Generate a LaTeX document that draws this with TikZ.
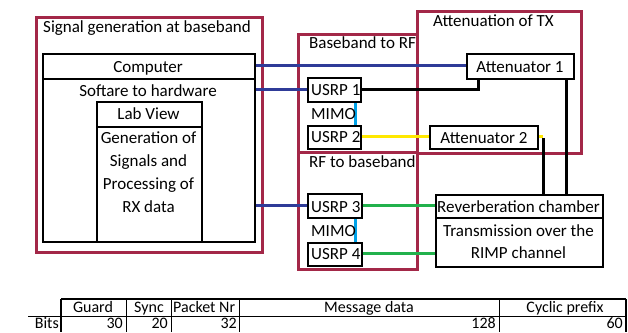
\documentclass[tikz,border=0pt]{standalone}
\usepackage{fontspec}
\setmainfont{Carlito}
\definecolor{grpred}{RGB}{163,40,72}
\definecolor{linkblue}{RGB}{47,59,152}
\definecolor{linkyellow}{RGB}{255,232,0}
\definecolor{linkgreen}{RGB}{34,177,76}
\definecolor{linkcyan}{RGB}{0,162,232}
\begin{document}
\begin{tikzpicture}[x=1pt,y=-1pt,
  group/.style={draw=grpred,line width=3pt,inner sep=0pt,anchor=north west},
  blk/.style={draw=black,line width=2pt,inner sep=0pt,anchor=north west},
  txt/.style={inner sep=0pt,font=\fontsize{17}{20}\selectfont},
  tbl/.style={inner sep=0pt,font=\fontsize{16}{19}\selectfont},
  wire/.style={line width=3pt},
  bluewire/.style={wire,draw=linkblue},
  yellowwire/.style={wire,draw=linkyellow},
  greenwire/.style={wire,draw=linkgreen},
  cyanwire/.style={wire,draw=linkcyan},
  blackwire/.style={wire,draw=black},
  thickrule/.style={line width=2pt},
  thinrule/.style={line width=1pt}]
\useasboundingbox (0,0) rectangle (628,332);

% functional groups
\node[group,minimum width=226pt,minimum height=235pt] (sig) at (35,16) {};
\node[group,minimum width=119pt,minimum height=118pt] (bb2rf) at (297,33) {};
\node[group,minimum width=119pt,minimum height=117pt] (rf2bb) at (297,151) {};
\node[group,minimum width=164pt,minimum height=142pt] (atten) at (416,10) {};

% hardware and software blocks (geometry only)
\node[minimum width=212pt,minimum height=188pt,inner sep=0pt,anchor=north west] (comp) at (42,53) {};
\node[minimum width=53pt,minimum height=24pt,inner sep=0pt,anchor=north west] (usrp1) at (307,77) {};
\node[minimum width=53pt,minimum height=23pt,inner sep=0pt,anchor=north west] (usrp2) at (307,125) {};
\node[minimum width=54pt,minimum height=24pt,inner sep=0pt,anchor=north west] (usrp3) at (307,193) {};
\node[minimum width=54pt,minimum height=23pt,inner sep=0pt,anchor=north west] (usrp4) at (307,242) {};
\node[minimum width=107pt,minimum height=25pt,inner sep=0pt,anchor=north west] (att1) at (466,53) {};
\node[minimum width=108pt,minimum height=23pt,inner sep=0pt,anchor=north west] (att2) at (429,125) {};
\node[minimum width=167pt,minimum height=72pt,inner sep=0pt,anchor=north west] (rev) at (435,194) {};

% connections
\draw[bluewire] (comp.east |- att1.west) -- (att1.west);
\draw[bluewire] (comp.east |- usrp1.west) -- (usrp1.west);
\draw[bluewire] (comp.east |- usrp3.west) -- (usrp3.west);
\draw[blackwire] (usrp1.east) -| ([xshift=12pt]att1.south west);
\coordinate (a1out) at ([xshift=-7pt]att1.south east);
\draw[blackwire] (a1out) -- (a1out |- rev.north);
\draw[yellowwire] (usrp2.east) -- (att2.west);
\coordinate (a2out) at ([xshift=6pt]att2.east);
\draw[yellowwire] (att2.east) -- (a2out);
\draw[blackwire] ([yshift=-1.5pt]a2out) -- (a2out |- rev.north);
\draw[greenwire] (usrp3.east) -- (usrp3.east -| rev.west);
\draw[greenwire] (usrp4.east) -- (usrp4.east -| rev.west);
\coordinate (m1) at ([xshift=-5pt]usrp1.south east);
\draw[cyanwire] (m1) -- (m1 |- usrp2.north);
\coordinate (m2) at ([xshift=-6pt]usrp3.south east);
\draw[cyanwire] (m2) -- (m2 |- usrp4.north);

% block outlines on top of the wires
\node[blk,fill=white,minimum width=212pt,minimum height=188pt] (compbox) at (42,53) {};
\draw[line width=1.2pt] (42,79) -- (254,79);
\node[blk,minimum width=105pt,minimum height=140pt] (lab) at (96,101) {};
\draw[line width=1.2pt] (96,127) -- (201,127);
\node[blk,fill=white,minimum width=53pt,minimum height=24pt] (usrp1box) at (307,77) {};
\node[blk,fill=white,minimum width=53pt,minimum height=23pt] (usrp2box) at (307,125) {};
\node[blk,fill=white,minimum width=54pt,minimum height=24pt] (usrp3box) at (307,193) {};
\node[blk,fill=white,minimum width=54pt,minimum height=23pt] (usrp4box) at (307,242) {};
\node[blk,fill=white,minimum width=107pt,minimum height=25pt] (att1box) at (466,53) {};
\node[blk,fill=white,minimum width=108pt,minimum height=23pt] (att2box) at (429,125) {};
\node[blk,fill=white,minimum width=167pt,minimum height=72pt] (revbox) at (435,194) {};
\draw[line width=1.2pt] (435,218) -- (602,218);

% labels
\node[txt,anchor=base west] (tsig) at (43,32) {Signal generation at baseband};
\node[txt,anchor=base west] (tbb) at (309,48) {Baseband to RF};
\node[txt,anchor=base west] (trf) at (309,167) {RF to baseband};
\node[txt,anchor=base west] (tatt) at (433,26) {Attenuation of TX};
\node[txt,anchor=base] (tcomp) at (148,72) {Computer};
\node[txt,anchor=base] (tsoft) at (148,96) {Softare to hardware};
\node[txt,anchor=base] (tlab) at (148.5,119) {Lab View};
\node[txt,anchor=base] (tgen1) at (148.5,143) {Generation of};
\node[txt,anchor=base] (tgen2) at (148.5,166) {Signals and};
\node[txt,anchor=base] (tgen3) at (148.5,189) {Processing of};
\node[txt,anchor=base] (tgen4) at (148.5,212) {RX data};
\node[txt,anchor=base west] (tu1) at (311,95) {USRP 1};
\node[txt,anchor=base west] (tm1) at (311,119) {MIMO};
\node[txt,anchor=base west] (tu2) at (311,142) {USRP 2};
\node[txt,anchor=base west] (tu3) at (311,212) {USRP 3};
\node[txt,anchor=base west] (tm2) at (311,236) {MIMO};
\node[txt,anchor=base west] (tu4) at (311,259) {USRP 4};
\node[txt,anchor=base] (ta1) at (520,72) {Attenuator 1};
\node[txt,anchor=base] (ta2) at (484,143) {Attenuator 2};
\node[txt,anchor=base] (trev) at (518.5,212) {Reverberation chamber};
\node[txt,anchor=base] (ttr1) at (518.5,236) {Transmission over the};
\node[txt,anchor=base] (ttr2) at (518.5,258) {RIMP channel};

% packet format table
\draw[thinrule] (28,316) -- (626,316);
\foreach \x in {126,171,239,499} \draw[thinrule] (\x,299) -- (\x,332);
\draw[thickrule] (61,299) -- (626,299);
\draw[thickrule] (61,299) -- (61,332);
\draw[thickrule] (626,299) -- (626,332);
\node[tbl,anchor=base] (hguard) at (93,312) {Guard};
\node[tbl,anchor=base] (hsync) at (149,312) {Sync};
\node[tbl,anchor=base west] (hpkt) at (173,312) {Packet Nr};
\node[tbl,anchor=base] (hmsg) at (369,312) {Message data};
\node[tbl,anchor=base] (hcyc) at (565,312) {Cyclic prefix};
\node[tbl,anchor=base east] (bits) at (59,328) {Bits};
\node[tbl,anchor=base east] (vguard) at (123,328) {30};
\node[tbl,anchor=base east] (vsync) at (168,328) {20};
\node[tbl,anchor=base east] (vpkt) at (237,328) {32};
\node[tbl,anchor=base east] (vmsg) at (496,328) {128};
\node[tbl,anchor=base east] (vcyc) at (623,328) {60};
\end{tikzpicture}
\end{document}
